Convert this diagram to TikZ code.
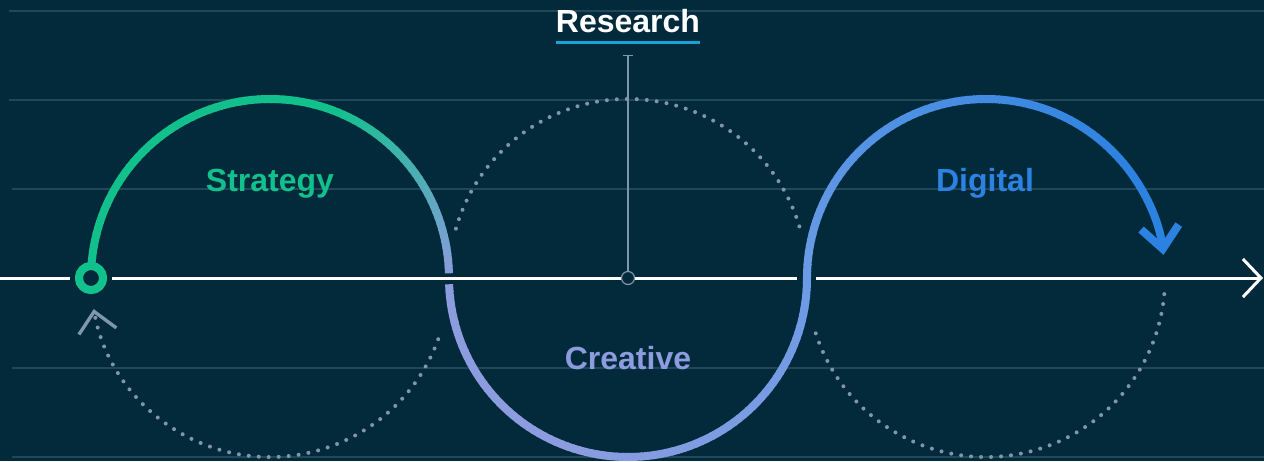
\documentclass[tikz,border=0pt]{standalone}
\usepackage{fontspec}
\setmainfont{Liberation Sans}
\usetikzlibrary{arrows.meta}

\definecolor{bg}{HTML}{022A3B}
\definecolor{gridline}{HTML}{21475A}
\definecolor{dotgray}{HTML}{7F97A8}
\definecolor{stratgreen}{HTML}{12C08C}
\definecolor{creativelav}{HTML}{8C9CDF}
\definecolor{midblue}{HTML}{6B9BE6}
\definecolor{digitalblue}{HTML}{2C82E0}
\definecolor{researchblue}{HTML}{1AA3DB}

\begin{document}
\begin{tikzpicture}[x=0.5pt, y=0.5pt,
  curve/.style={line width=4pt},
  dots/.style={dotgray, line width=2pt, line cap=round, dash pattern=on 0pt off 5pt},
  axisline/.style={white, line width=1.5pt},
  guide/.style={dotgray, line width=0.6pt},
  ring/.style={circle, draw=stratgreen, line width=4pt, fill=bg, minimum size=12pt, inner sep=0pt},
  phasetext/.style={font=\fontsize{16}{19}\selectfont\bfseries, anchor=base}]
\fill[bg] (0,-183) rectangle (1264,278);
\useasboundingbox (0,-183) rectangle (1264,278);
\foreach \y/\x in {267/9,178/9,89/12,-90/12,-179/12}
  \draw[gridline, line width=0.6pt] (\x,\y) -- (1264,\y);

\coordinate (strat) at (270,0);
\coordinate (res) at (628,0);
\coordinate (dig) at (986,0);

% dotted return halves
\draw[dots, -{Straight Barb[length=10pt, width=19pt, line width=1.7pt]}]
  ([shift={(340:179)}]strat) arc[start angle=340, end angle=190, radius=179];
\draw[dots] ([shift={(164:179)}]res) arc[start angle=164, end angle=16, radius=179];
\draw[dots] ([shift={(198:179)}]dig) arc[start angle=198, end angle=358, radius=179];

% axis
\node[ring, outer sep=4.5pt] (start) at (91,0) {};
\coordinate (west end) at (0,0);
\coordinate (gap left) at (797,0);
\coordinate (gap right) at (816,0);
\coordinate (east end) at (1263,0);
\draw[axisline] (west end) -- (start.west);
\draw[axisline] (start.east) -- (gap left);
\draw[axisline, -{Straight Barb[length=9pt, width=19pt]}] (gap right) -- (east end);

% the S curve, coloured piece by piece
\foreach \a in {180,178,...,4}{
  \pgfmathsetmacro\p{min(100,\a/70*100)}
  \draw[curve, stratgreen!\p!creativelav] ([shift={(\a:179)}]strat)
    arc[start angle=\a, end angle=\a-2.5, radius=179];
}
\foreach \a in {182,184,...,358}{
  \pgfmathsetmacro\p{max(0,(\a-250)/110*100)}
  \draw[curve, midblue!\p!creativelav] ([shift={(\a:179)}]res)
    arc[start angle=\a, end angle=\a+2.5, radius=179];
}
\foreach \a in {180,178,...,42}{
  \pgfmathsetmacro\p{(180-\a)/140*100}
  \draw[curve, digitalblue!\p!midblue] ([shift={(\a:179)}]dig)
    arc[start angle=\a, end angle=\a-2.5, radius=179];
}
\draw[curve, digitalblue, -{Straight Barb[length=11pt, width=19pt]}]
  ([shift={(40:179)}]dig) arc[start angle=40, end angle=7.4, radius=179];

% redraw the start ring on top
\node[ring] at (start) {};

% research marker
\node[circle, draw=dotgray, line width=0.6pt, fill=bg, minimum size=6.5pt,
  inner sep=0pt] (hub) at (res) {};
\coordinate (tick) at (628,223);
\draw[guide, {Bar[width=5pt]}-] (tick) -- (hub.north);

\node[phasetext, white, inner xsep=0pt, inner ysep=4.5pt] (research) at (628,245) {Research};
\draw[researchblue, line width=1.5pt] (research.south west) -- (research.south east);

\node[phasetext, stratgreen] (strategy) at (270,87) {Strategy};
\node[phasetext, creativelav] (creative) at (628,-91) {Creative};
\node[phasetext, digitalblue] (digital) at (985,87) {Digital};
\end{tikzpicture}
\end{document}
